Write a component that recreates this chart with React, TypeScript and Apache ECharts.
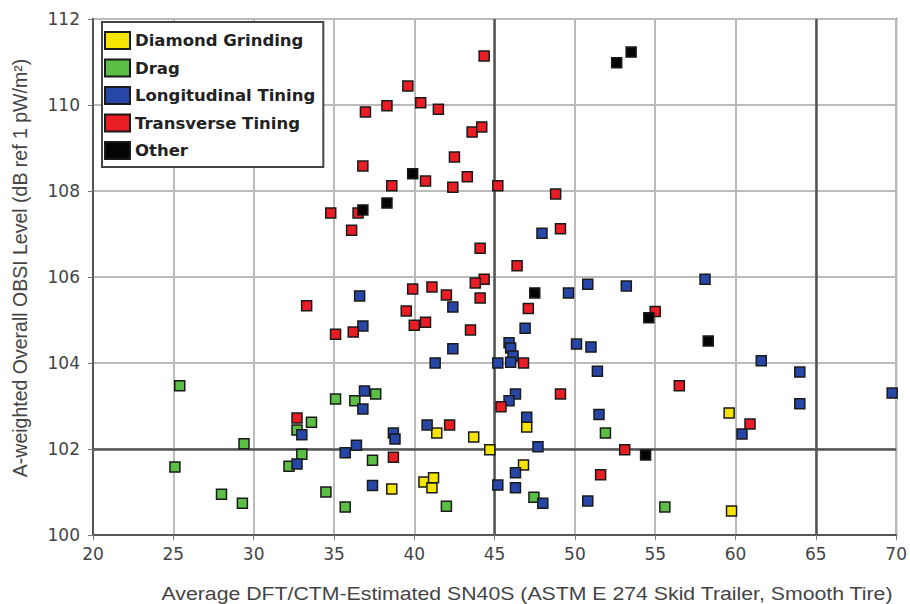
import React, { useEffect, useRef } from "react";
import * as echarts from "echarts";

const xTicks = { min: 20, max: 70, interval: 5 };
const yTicks = { min: 100, max: 112, interval: 2 };

const seriesNames = ["Diamond Grinding", "Drag", "Longitudinal Tining", "Transverse Tining", "Other"];

const diamondGrinding: number[][] = [
  [38.6, 101.07], [40.6, 101.23], [41.1, 101.1], [41.2, 101.33], [41.4, 102.37],
  [43.7, 102.28], [44.7, 101.98], [46.8, 101.63], [47.0, 102.51], [59.6, 102.84], [59.75, 100.56],
];

const drag: number[][] = [
  [25.4, 103.47], [25.1, 101.58], [29.4, 102.12], [28.0, 100.95], [29.3, 100.74],
  [35.1, 103.16], [36.3, 103.12], [37.6, 103.28], [33.6, 102.62], [32.7, 102.44],
  [33.0, 101.88], [32.2, 101.6], [37.4, 101.74], [34.5, 101.0], [35.7, 100.65],
  [42.0, 100.67], [47.45, 100.88], [51.9, 102.37], [55.6, 100.65],
];

const longitudinalTining: number[][] = [
  [36.9, 103.35], [36.8, 102.93], [33.0, 102.33], [32.7, 101.65], [36.4, 102.09],
  [35.7, 101.91], [38.7, 102.37], [38.8, 102.23], [37.4, 101.15], [40.8, 102.56],
  [47.7, 102.05], [47.0, 102.74], [46.3, 103.28], [45.9, 103.12], [46.3, 101.45],
  [45.2, 101.16], [46.3, 101.1], [48.0, 100.74], [51.5, 102.8], [50.8, 100.79],
  [51.4, 103.81], [47.95, 107.02], [42.4, 105.3], [42.4, 104.33], [41.3, 104.0],
  [45.2, 104.0], [45.9, 104.47], [46.0, 104.35], [46.15, 104.16], [46.0, 104.02],
  [46.9, 104.81], [49.6, 105.63], [50.8, 105.83], [53.2, 105.79], [50.1, 104.44],
  [51.0, 104.37], [36.6, 105.56], [36.8, 104.86], [58.1, 105.95], [61.6, 104.05],
  [64.0, 103.79], [64.0, 103.05], [69.75, 103.3], [60.4, 102.35],
];

const transverseTining: number[][] = [
  [32.7, 102.72], [38.7, 101.81], [42.2, 102.56], [45.4, 102.98], [49.1, 103.28],
  [53.1, 101.98], [51.6, 101.4], [56.5, 103.47], [60.9, 102.58], [55.0, 105.2],
  [38.6, 108.12], [34.8, 107.49], [36.5, 107.49], [36.1, 107.09], [33.3, 105.33],
  [35.1, 104.67], [36.2, 104.72], [39.9, 105.72], [39.5, 105.21], [40.0, 104.88],
  [40.7, 108.23], [42.4, 108.09], [43.3, 108.33], [45.2, 108.12], [48.8, 107.93],
  [49.1, 107.12], [44.1, 106.67], [46.4, 106.26], [44.35, 105.95], [43.8, 105.86],
  [41.1, 105.77], [42.0, 105.58], [44.1, 105.51], [40.7, 104.95], [43.5, 104.77],
  [47.1, 105.27], [46.8, 104.0], [44.35, 111.14], [39.6, 110.44], [40.4, 110.05],
  [41.5, 109.9], [43.6, 109.37], [44.2, 109.49], [42.5, 108.79], [36.96, 109.84],
  [38.3, 109.98], [36.8, 108.58],
];

const other: number[][] = [
  [52.6, 110.98], [53.5, 111.23], [39.9, 108.4], [38.3, 107.72], [36.8, 107.56],
  [47.5, 105.63], [54.6, 105.05], [58.3, 104.51], [54.4, 101.86],
];

const seriesData = [diamondGrinding, drag, longitudinalTining, transverseTining, other];
const seriesColors = ["#f4e400", "#5cbf45", "#2747a8", "#ea1c24", "#050505"];

const xTitle = "Average DFT/CTM-Estimated SN40S (ASTM E 274 Skid Trailer, Smooth Tire)";
const yTitle = "A-weighted Overall OBSI Level (dB ref 1 pW/m\u00b2)";
const emphasisX = [45, 65];
const emphasisY = [102];

export default function App() {
  const ref = useRef<HTMLDivElement>(null);
  useEffect(() => {
    if (!ref.current) return;
    const chart = echarts.init(ref.current, undefined, { renderer: "svg" });
    const font = "Arial, 'Liberation Sans', sans-serif";
    const wide = "'DejaVu Sans', sans-serif";
    const series: any[] = seriesNames.map((name, i) => ({
      name,
      type: "scatter",
      symbol: "rect",
      symbolSize: 10,
      data: seriesData[i],
      itemStyle: { color: seriesColors[i], borderColor: "#1a1a1a", borderWidth: 1.5, opacity: 1 },
      z: 3,
    }));
    series[0].markLine = {
      silent: true,
      symbol: "none",
      label: { show: false },
      lineStyle: { color: "#555", width: 2.5, type: "solid" },
      data: [
        ...emphasisX.map((v) => ({ xAxis: v })),
        ...emphasisY.map((v) => ({ yAxis: v })),
      ],
      z: 1,
    };
    chart.setOption({
      animation: false,
      backgroundColor: "#fff",
      grid: { left: 93, right: 12, top: 19, bottom: 69, show: true, borderColor: "#555", borderWidth: 2, backgroundColor: "#fff" },
      legend: {
        orient: "vertical",
        left: 102,
        top: 22,
        itemWidth: 25,
        itemHeight: 17,
        itemGap: 8.5,
        padding: [9, 8, 7, 2],
        backgroundColor: "#fff",
        borderColor: "#444",
        borderWidth: 2,
        textStyle: { fontFamily: wide, fontWeight: "bold", fontSize: 16.5, color: "#222" },
        data: seriesNames,
      },
      xAxis: {
        type: "value",
        ...xTicks,
        axisLine: { show: true, lineStyle: { color: "#555", width: 2 } },
        axisTick: { show: true, length: 5, lineStyle: { color: "#777" } },
        axisLabel: { fontFamily: wide, fontSize: 17, color: "#444", margin: 10 },
        splitLine: { show: true, lineStyle: { color: "#bbb", width: 2 } },
      },
      yAxis: {
        type: "value",
        ...yTicks,
        axisLine: { show: true, lineStyle: { color: "#555", width: 2 } },
        axisTick: { show: true, length: 5, lineStyle: { color: "#777" } },
        axisLabel: { fontFamily: wide, fontSize: 17, color: "#444", margin: 13 },
        splitLine: { show: true, lineStyle: { color: "#bbb", width: 2 } },
      },
      graphic: [
        {
          type: "text",
          x: 527,
          y: 593,
          scaleX: 1.12,
          style: { text: xTitle, font: `19px ${font}`, fill: "#444", align: "center", verticalAlign: "middle" },
        },
        {
          type: "text",
          x: 20,
          y: 268,
          rotation: Math.PI / 2,
          style: { text: yTitle, font: `19.5px ${font}`, fill: "#444", align: "center", verticalAlign: "middle" },
        },
      ],
      series,
    });
    return () => chart.dispose();
  }, []);
  return <div ref={ref} style={{ width: 910, height: 604, position: "absolute", left: 0, top: 0 }} />;
}
